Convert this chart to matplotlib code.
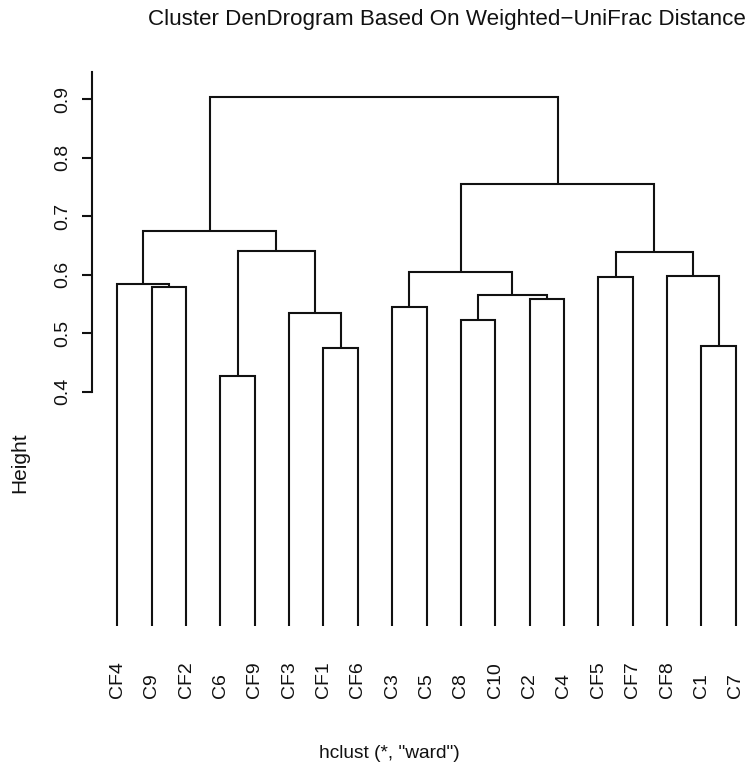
import matplotlib
matplotlib.use("Agg")
import matplotlib.pyplot as plt
from matplotlib import font_manager

# ---- data ----
leaf_labels = ["CF4", "C9", "CF2", "C6", "CF9", "CF3", "CF1", "CF6", "C3", "C5",
               "C8", "C10", "C2", "C4", "CF5", "CF7", "CF8", "C1", "C7"]
# merges (R hclust style): negative = leaf (1-based, in plotting order), positive = earlier merge
merge_left = [-2, -1, -4, -7, -6, 3, 2, -9, -11, -13, 9, 8, -15, -18, -17, 13, 12, 7]
merge_right = [-3, 1, -5, -8, 4, 5, 6, -10, -12, -14, 10, 11, -16, -19, 14, 15, 16, 17]
merge_height = [0.579, 0.584, 0.427, 0.475, 0.534, 0.6405, 0.675, 0.544, 0.523, 0.5585,
                0.565, 0.604, 0.5966, 0.478, 0.598, 0.638, 0.7556, 0.904]
leaf_base = 0.0
y_ticks = [0.4, 0.5, 0.6, 0.7, 0.8, 0.9]
y_tick_labels = ["0.4", "0.5", "0.6", "0.7", "0.8", "0.9"]

title = "Cluster DenDrogram Based On Weighted\u2212UniFrac Distance"
sub = 'hclust (*, "ward")'
ylabel = "Height"

# ---- figure ----
W, H = 747, 771
fig = plt.figure(figsize=(W / 100, H / 100), dpi=100)
plt.rcParams['font.family'] = ['Liberation Sans', 'DejaVu Sans']
names = {f.name for f in font_manager.fontManager.ttflist}
title_family = ['Liberation Sans Narrow', 'Liberation Sans'] if 'Liberation Sans Narrow' in names \
    else ['Liberation Sans', 'DejaVu Sans']
col = "#111111"
lw = 1.5

ax_left_px = 92
ax = fig.add_axes([ax_left_px / W, 0, 1 - ax_left_px / W, 1])
x0_px, dx_px = 117.3, 34.36
ax.set_xlim(1 + (ax_left_px - x0_px) / dx_px, 1 + (W - x0_px) / dx_px)
ppu = 585.0
y04_px = 391.7
ax.set_ylim(0.4 - (H - y04_px) / ppu, 0.4 + y04_px / ppu)

for s in ["top", "right", "bottom"]:
    ax.spines[s].set_visible(False)
ax.spines["left"].set_bounds(0.4, 0.947)
ax.spines["left"].set_linewidth(lw)
ax.spines["left"].set_color(col)
ax.set_xticks([])
ax.set_yticks(y_ticks)
ax.set_yticklabels(y_tick_labels, rotation=90, va="center", fontsize=14, color=col)
ax.tick_params(axis="y", length=7.2, width=lw, color=col, pad=8)
ax.patch.set_alpha(0)

pos = {}
hgt = {}
def node_xy(n):
    if n < 0:
        return float(-n), leaf_base
    return pos[n], hgt[n]

for i, (a, b, h) in enumerate(zip(merge_left, merge_right, merge_height), start=1):
    xa, ya = node_xy(a)
    xb, yb = node_xy(b)
    ax.plot([xa, xa, xb, xb], [ya, h, h, yb], color=col, lw=lw,
            solid_joinstyle="miter", solid_capstyle="butt")
    pos[i] = (xa + xb) / 2
    hgt[i] = h

lab_base = 0.4 - (698.5 - y04_px) / ppu
for i, lab in enumerate(leaf_labels, start=1):
    ax.text(i, lab_base, lab, rotation=90, ha="center", va="bottom",
            fontsize=14, color=col)

t = fig.text(446.5 / W, 1 - 24.5 / H, title, ha="center", va="baseline",
             fontsize=16, color=col, family=title_family)
fig.canvas.draw()
bb = t.get_window_extent()
t.set_fontsize(16 * 597 / bb.width)

fig.text(389.5 / W, 1 - 753 / H, sub, ha="center", va="center", fontsize=13.8, color=col)
fig.text(20 / W, 1 - 463 / H, ylabel, rotation=90, ha="center", va="center",
         fontsize=15, color=col)

fig.savefig("out.png", dpi=100)
